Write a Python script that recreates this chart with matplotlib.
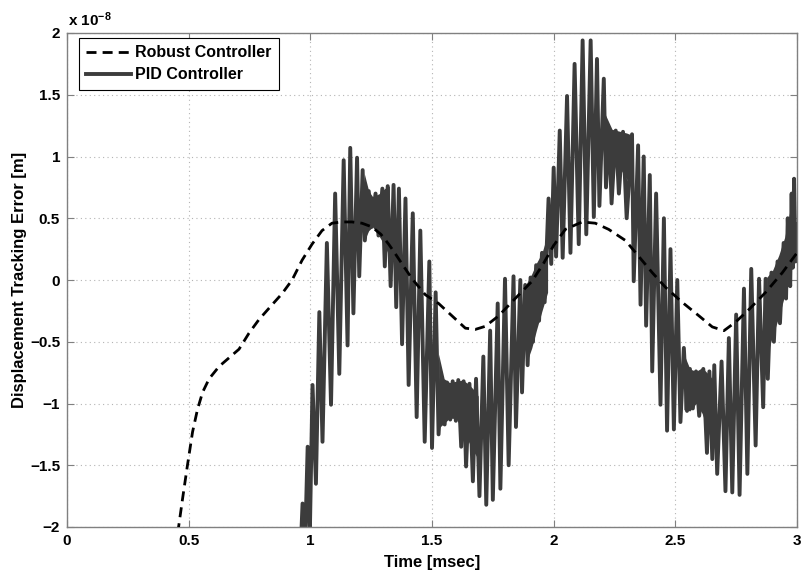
"""
    Displacement tracking error: robust vs PID controller.
    Values read off the reference figure, y in units of 1e-8 m.
"""
import matplotlib
matplotlib.use("Agg")
import matplotlib.pyplot as plt

plt.rcParams['font.family'] = ['Liberation Sans', 'DejaVu Sans']
plt.rcParams['font.weight'] = 'bold'
plt.rcParams['mathtext.fontset'] = 'custom'
plt.rcParams['mathtext.rm'] = 'Liberation Sans:bold'
plt.rcParams['mathtext.bf'] = 'Liberation Sans:bold'
plt.rcParams['mathtext.default'] = 'bf'

# robust controller (smooth dashed curve)
robust_t = [0.455, 0.475, 0.495, 0.516, 0.536, 0.557, 0.584, 0.625, 0.666, 0.707,
            0.748, 0.789, 0.843, 0.884, 0.925, 0.966, 1.007, 1.048, 1.089, 1.13,
            1.171, 1.212, 1.253, 1.29, 1.322, 1.35, 1.377, 1.418, 1.473, 1.527,
            1.582, 1.637, 1.678, 1.719, 1.774, 1.842, 1.911, 1.96, 2.0, 2.048,
            2.117, 2.171, 2.226, 2.295, 2.35, 2.405, 2.46, 2.528, 2.597, 2.652,
            2.70, 2.748, 2.802, 2.871, 2.94, 3.0]
robust_y = [-2.05, -1.77, -1.50, -1.23, -1.05, -0.91, -0.80, -0.70, -0.63, -0.56,
            -0.43, -0.32, -0.20, -0.11, 0.0, 0.16, 0.29, 0.40, 0.46, 0.47,
            0.47, 0.46, 0.43, 0.37, 0.29, 0.21, 0.13, 0.01, -0.12, -0.19,
            -0.29, -0.39, -0.40, -0.375, -0.29, -0.15, -0.01, 0.14, 0.28, 0.41,
            0.47, 0.46, 0.41, 0.32, 0.19, 0.06, -0.06, -0.18, -0.29, -0.38,
            -0.41, -0.34, -0.24, -0.10, 0.06, 0.22]

# PID controller: peaks and troughs of the oscillation (time, value), in order
pid_rise1 = [(0.962, -2.10), (0.968, -1.81), (0.979, -2.10), (0.989, -1.35), (0.998, -2.05),
             (1.009, -0.85), (1.023, -1.65), (1.037, -0.26), (1.050, -1.31), (1.068, 0.30),
             (1.085, -1.01), (1.102, 0.70), (1.119, -0.76), (1.137, 0.97), (1.153, -0.53),
             (1.164, 1.07), (1.177, -0.27), (1.192, 0.99), (1.201, 0.03), (1.215, 0.89),
             (1.224, 0.32), (1.240, 0.72), (1.252, 0.43), (1.268, 0.70), (1.280, 0.36),
             (1.296, 0.74), (1.306, 0.11)]
pid_fall1 = [(1.318, 0.76), (1.330, -0.05), (1.342, 0.77), (1.353, -0.22), (1.364, 0.74),
             (1.377, -0.52), (1.391, 0.66), (1.404, -0.85), (1.421, 0.54), (1.437, -1.11),
             (1.452, 0.40), (1.470, -1.31), (1.489, 0.15), (1.500, -1.36), (1.515, -0.10),
             (1.527, -1.25), (1.540, -0.80), (1.552, -1.17), (1.562, -0.83), (1.575, -1.13),
             (1.585, -0.82), (1.598, -1.14), (1.608, -0.81), (1.620, -1.35), (1.630, -0.82),
             (1.640, -1.51), (1.654, -0.84), (1.668, -1.63), (1.681, -0.80), (1.695, -1.75),
             (1.711, -0.62), (1.723, -1.82), (1.739, -0.41), (1.750, -1.78), (1.770, -0.19),
             (1.781, -1.69), (1.800, 0.01), (1.815, -1.50), (1.835, 0.03), (1.845, -1.19),
             (1.863, 0.0), (1.870, -0.91), (1.883, -0.04), (1.893, -0.69)]
pid_rise2 = [(1.905, 0.02), (1.915, -0.50), (1.928, 0.12), (1.940, -0.33), (1.952, 0.22),
             (1.963, -0.18), (1.979, 0.66), (1.990, 0.13), (2.000, 0.91), (2.010, 0.19),
             (2.025, 1.21), (2.037, 0.18), (2.055, 1.49), (2.069, 0.22), (2.086, 1.75),
             (2.103, 0.29), (2.119, 1.94), (2.134, 0.37), (2.152, 1.94), (2.165, 0.51),
             (2.178, 1.79), (2.188, 0.60), (2.206, 1.63), (2.215, 0.75), (2.228, 1.22),
             (2.238, 0.62), (2.255, 1.21), (2.268, 0.70), (2.285, 1.20), (2.300, 0.50)]
pid_fall2 = [(2.322, 1.18), (2.329, -0.01), (2.347, 1.09), (2.357, -0.20), (2.370, 1.00),
             (2.380, -0.37), (2.395, 0.85), (2.405, -0.74), (2.421, 0.70), (2.439, -1.01),
             (2.453, 0.50), (2.466, -1.22), (2.480, 0.25), (2.494, -1.21), (2.508, 0.0),
             (2.521, -1.15), (2.535, -0.55), (2.548, -1.06), (2.560, -0.72), (2.572, -1.04),
             (2.585, -0.74), (2.598, -1.10), (2.615, -0.72), (2.630, -1.40), (2.640, -0.74),
             (2.652, -1.45), (2.660, -0.69), (2.672, -1.57), (2.690, -0.66), (2.706, -1.71),
             (2.720, -0.47), (2.734, -1.72), (2.750, -0.28), (2.764, -1.74), (2.782, -0.07),
             (2.796, -1.57), (2.812, 0.09), (2.830, -1.34), (2.844, 0.01), (2.861, -1.03)]
pid_rise3 = [(2.871, 0.01), (2.880, -0.80), (2.895, 0.06), (2.905, -0.50), (2.920, 0.15),
             (2.930, -0.35), (2.945, 0.30), (2.955, -0.15), (2.962, 0.50), (2.972, -0.05),
             (2.978, 0.70), (2.983, 0.10), (2.988, 0.82), (2.994, 0.15), (2.998, 0.45),
             (3.0, 0.16)]

# dense (filled-looking) parts of the PID trace: time, upper edge, lower edge
band1_t = [1.222, 1.240, 1.256, 1.284, 1.305, 1.325]
band1_hi = [0.86, 0.72, 0.675, 0.70, 0.74, 0.76]
band1_lo = [0.32, 0.40, 0.43, 0.35, 0.28, 0.19]

band2_t = [1.527, 1.550, 1.572, 1.599, 1.626, 1.648, 1.668, 1.690]
band2_hi = [-0.60, -0.80, -0.83, -0.82, -0.81, -0.84, -0.88, -0.94]
band2_lo = [-1.20, -1.16, -1.12, -1.12, -1.22, -1.30, -1.38, -1.45]

band3_t = [1.885, 1.910, 1.930, 1.952, 1.975]
band3_hi = [-0.04, 0.05, 0.14, 0.22, 0.37]
band3_lo = [-0.69, -0.55, -0.40, -0.25, -0.10]

band4_t = [2.210, 2.240, 2.260, 2.280, 2.300, 2.325]
band4_hi = [1.35, 1.22, 1.21, 1.20, 1.19, 1.17]
band4_lo = [0.85, 0.92, 0.96, 0.88, 0.82, 0.75]

band5_t = [2.535, 2.560, 2.585, 2.610, 2.635, 2.660]
band5_hi = [-0.60, -0.72, -0.74, -0.71, -0.76, -0.82]
band5_lo = [-1.05, -1.06, -1.00, -1.08, -1.22, -1.37]

band6_t = [2.875, 2.900, 2.925, 2.950, 2.970]
band6_hi = [0.02, 0.08, 0.20, 0.35, 0.55]
band6_lo = [-0.62, -0.45, -0.30, -0.12, 0.00]

xticks = [0, 0.5, 1, 1.5, 2, 2.5, 3]
xticklabels = ['0', '0.5', '1', '1.5', '2', '2.5', '3']
yticks = [-2, -1.5, -1, -0.5, 0, 0.5, 1, 1.5, 2]
yticklabels = ['\u22122', '\u22121.5', '\u22121', '\u22120.5', '0', '0.5', '1', '1.5', '2']

pidColor = '#3c3c3c'

pid_pts = pid_rise1 + pid_fall1 + pid_rise2 + pid_fall2 + pid_rise3
pid_t = [p[0] for p in pid_pts]
pid_y = [p[1] for p in pid_pts]

fig = plt.figure(figsize=(8.03, 5.74), dpi=100)
ax = fig.add_axes([67/803, 47/574, 730/803, 494/574])

ax.plot(robust_t, robust_y, color='black', lw=2.0, linestyle=(0, (3.6, 2.2)),
        label='Robust Controller', zorder=3)
ax.plot(pid_t, pid_y, color=pidColor, lw=2.8, label='PID Controller', zorder=2)
for bt, bh, bl in [(band1_t, band1_hi, band1_lo), (band2_t, band2_hi, band2_lo),
                   (band3_t, band3_hi, band3_lo), (band4_t, band4_hi, band4_lo),
                   (band5_t, band5_hi, band5_lo), (band6_t, band6_hi, band6_lo)]:
    ax.fill_between(bt, bh, bl, color=pidColor, lw=0, zorder=2)

ax.set_xlim(0, 3)
ax.set_ylim(-2, 2)
ax.set_xticks(xticks)
ax.set_xticklabels(xticklabels)
ax.set_yticks(yticks)
ax.set_yticklabels(yticklabels)
ax.tick_params(direction='in', length=5, width=0.8, color='#808080',
               labelsize=11, top=True, right=True, pad=5)
for s in ax.spines.values():
    s.set_color('#808080')
    s.set_linewidth(1.0)
ax.grid(True, color='#b4b4b4', linestyle=(0, (1, 3)), linewidth=0.8)

ax.set_xlabel('Time [msec]', fontsize=12, fontweight='bold', labelpad=5)
ax.set_ylabel('Displacement Tracking Error [m]', fontsize=12, fontweight='bold', labelpad=2)
ax.text(0.002, 1.008, r'x 10$^{-8}$', transform=ax.transAxes, fontsize=11,
        fontweight='bold', ha='left', va='bottom')

leg = ax.legend(loc='upper left', bbox_to_anchor=(0.016, 0.99), fontsize=11.5,
                fancybox=False, framealpha=1, edgecolor='black', handlelength=2.8,
                borderpad=0.45, labelspacing=0.45, handletextpad=0.3, borderaxespad=0)
leg.get_frame().set_linewidth(0.8)

fig.savefig('out.png', dpi=100)
